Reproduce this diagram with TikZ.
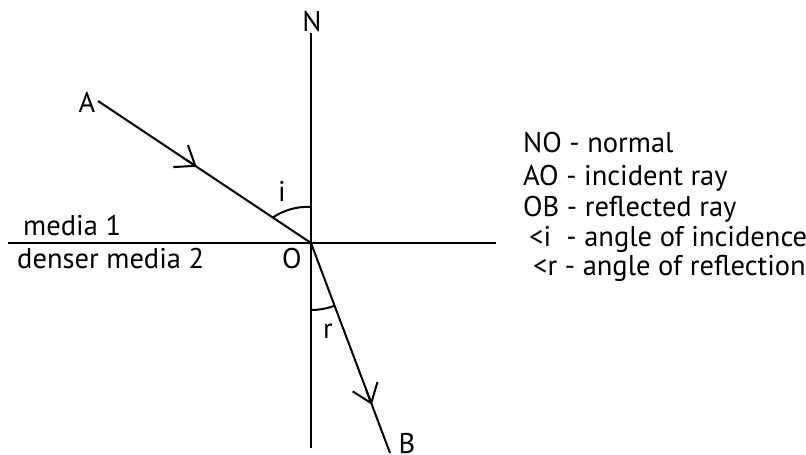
\documentclass[tikz,border=0pt]{standalone}
\usepackage{fontspec}
\setmainfont{PT Sans}
\usetikzlibrary{arrows.meta,calc}
\begin{document}
\begin{tikzpicture}[x=1pt,y=-1pt,
  ln/.style={line width=2pt},
  barb/.style={line width=2pt,-{Straight Barb[angle=74:22pt,line width=2pt]}},
  lbl/.style={font=\fontsize{28.5}{31}\selectfont,inner sep=0pt},
  txt/.style={lbl,anchor=base west}]
\useasboundingbox (0,0) rectangle (806,455);
\coordinate (O) at (311,243);
\coordinate (Ntop) at (311,33);
\coordinate (Nbot) at (311,448);
\coordinate (Hl) at (8,243);
\coordinate (Hr) at (496,243);
\coordinate (A) at (98,101);
\coordinate (B) at (390,453);
% lines
\draw[ln] (Ntop) -- (Nbot);
\draw[ln] (Hl) -- (Hr);
\draw[ln] (A) -- (O);
\draw[ln] (O) -- (B);
% arrow barbs
\coordinate (a1) at ($(A)!0.40!(O)$);
\coordinate (a2) at ($(A)!0.463!(O)$);
\draw[barb] (a1) -- (a2);
\coordinate (b1) at ($(O)!0.70!(B)$);
\coordinate (b2) at ($(O)!0.77!(B)$);
\draw[barb] (b1) -- (b2);
% angle arcs
\coordinate (i1) at ($(O)!46pt!(A)$);
\coordinate (i2) at ($(O)!36pt!(Ntop)$);
\draw[ln] (i1) .. controls (284,210) and (298,206) .. (i2);
\coordinate (r1) at ($(O)!67pt!(Nbot)$);
\draw[ln] (r1) arc[start angle=-90,end angle=-69.4,radius=67pt];
% labels
\node[lbl] (N) at (312,22) {N};
\node[lbl] (Al) at (87,102) {A};
\node[lbl,anchor=base] (Bl) at (407,453) {B};
\node[lbl] (il) at (282,191) {i};
\node[lbl] (rl) at (328,331) {r};
\node[txt] (Ol) at (282,268) {O};
\node[txt] (m1) at (23,235) {media 1};
\node[txt] (m2) at (17,268) {denser media 2};
\node[txt] (t1) at (523,152) {NO - normal};
\node[txt] (t2) at (523,185) {AO - incident ray};
\node[txt] (t3) at (523,216) {OB - reflected ray};
\node[txt] (t4) at (529,246) {<i\ \ - angle of incidence};
\node[txt] (t5) at (533,275) {<r - angle of reflection};
\end{tikzpicture}
\end{document}
